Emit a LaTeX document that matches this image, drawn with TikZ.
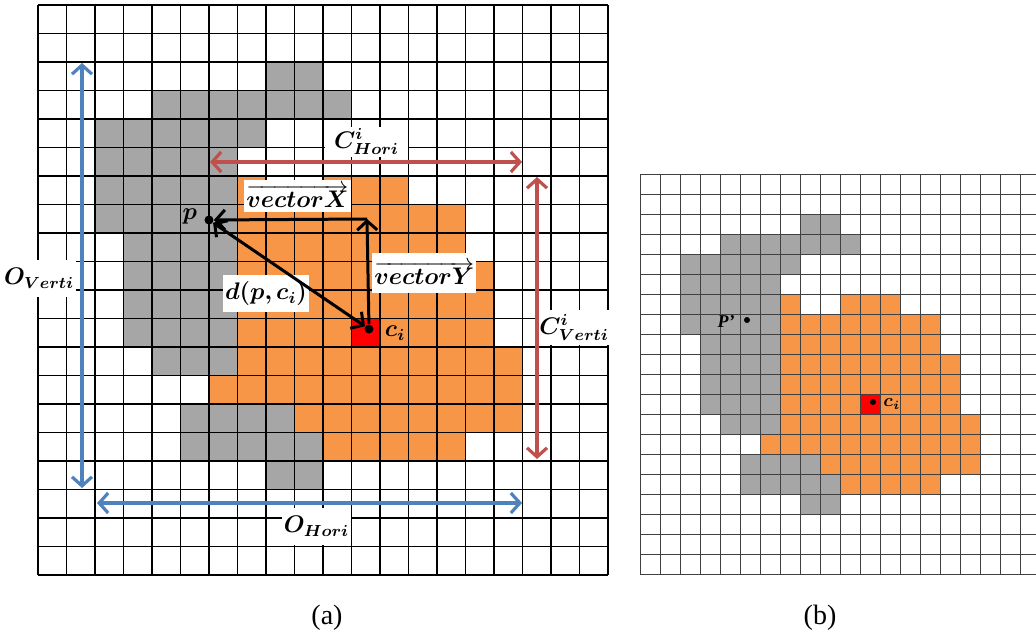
\documentclass[tikz,border=0pt]{standalone}
\usepackage{fontspec}
\setmainfont{Liberation Serif}
\usepackage{bm}
\usetikzlibrary{arrows.meta,positioning}

\definecolor{cellgrey}{RGB}{166,166,166}
\definecolor{cellorange}{RGB}{247,150,70}
\definecolor{arrowblue}{RGB}{79,129,189}
\definecolor{arrowred}{RGB}{192,80,77}

\tikzset{
  gridline/.style={black,line width=0.6pt},
  dimarrow/.style={line width=1.6pt,
    {Straight Barb[length=4.5pt,width=10pt]}-{Straight Barb[length=4.5pt,width=10pt]}},
  vecarrow/.style={black,line width=1.5pt,-{Straight Barb[length=4.5pt,width=10pt]}},
  labelbox/.style={fill=white,inner sep=0pt,font=\fontsize{12}{14}\selectfont},
  pointdot/.style={circle,fill=black,inner sep=0pt,minimum size=#1},
}

% cells of the object, same for (a) and (b)
\newcommand{\drawblob}{%
  \foreach \r/\a/\b in {2/8/9,3/4/10,4/2/7,5/2/6,6/2/6,7/2/6,8/3/6,9/3/6,
                        10/3/6,11/3/6,12/4/6,14/5/8,15/5/9,16/8/9}
    \fill[cellgrey] (\a,\r) rectangle (\b+1,\r+1);
  \foreach \r/\a/\b in {6/7/7,6/10/12,7/7/14,8/7/14,9/7/15,10/7/15,11/7/15,
                        12/7/16,13/6/16,14/9/16,15/10/14}
    \fill[cellorange] (\a,\r) rectangle (\b+1,\r+1);
  \fill[red] (11,11) rectangle (12,12);
  \foreach \i in {0,...,20} {
    \draw[gridline] (\i,0) -- (\i,20);
    \draw[gridline] (0,\i) -- (20,\i);
  }%
}

\begin{document}
\begin{tikzpicture}[x=0.5pt,y=-0.5pt]
  \useasboundingbox (0,0) rectangle (1036,637);
  % grid (a)
  \begin{scope}[shift={(38,5)},scale=28.5]
    \drawblob
  \end{scope}
  % grid (b)
  \begin{scope}[shift={(640,174)},scale=20,gridline/.style={black!75,line width=0.5pt}]
    \drawblob
  \end{scope}

  % end points of the extents
  \coordinate (ovtop) at (82,63);
  \coordinate (ovbot) at (82,488);
  \coordinate (ohleft) at (97,503);
  \coordinate (ohright) at (522,503);
  \coordinate (chleft) at (210,162);
  \coordinate (chright) at (522,162);
  \coordinate (cvtop) at (537,177);
  \coordinate (cvbot) at (537,459);
  \coordinate (corner) at (367,219);

  % labels on white
  \node[labelbox,minimum width=37pt,minimum height=18.5pt] (overti) at (39,278.5) {$\bm{O_{Verti}}$};
  \node[labelbox,minimum width=34.5pt,minimum height=18.5pt] (ohori) at (316.5,526.5) {$\bm{O_{Hori}}$};
  \node[labelbox,minimum width=41.5pt,minimum height=15pt] (chori) at (366.5,141.5) {$\bm{C^{i}_{Hori}}$};
  \node[labelbox,minimum width=32.5pt,minimum height=17.5pt] (cverti) at (574,327.5) {$\bm{C^{i}_{Verti}}$};
  \node[labelbox,minimum height=16pt,inner xsep=1pt,anchor=west] (vecx) at (244,196) {$\overrightarrow{\bm{vectorX}}$};
  \node[labelbox,minimum height=20pt,inner xsep=1pt,anchor=west] (vecy) at (372,273) {$\overrightarrow{\bm{vectorY}}$};
  \node[labelbox,minimum width=43pt,minimum height=18.5pt] (dist) at (266,293.5) {$\bm{d(p,c_i)}$};

  % points p and c_i
  \node[pointdot=4.5pt] (p) at (209,220) {};
  \node[pointdot=4.5pt] (ci) at (369,329) {};
  \node[font=\fontsize{12}{14}\selectfont,left=0pt of p,yshift=2pt] (plabel) {$\bm{p}$};
  \node[font=\fontsize{12}{14}\selectfont,right=2pt of ci,yshift=-2pt] (cilabel) {$\bm{c_i}$};

  % extents
  \draw[dimarrow,arrowblue] (ovtop) -- (ovbot);
  \draw[dimarrow,arrowblue] (ohleft) -- (ohright);
  \draw[dimarrow,arrowred] (chleft) -- (chright);
  \draw[dimarrow,arrowred] (cvtop) -- (cvbot);

  % vectors
  \draw[vecarrow] (corner) -- (p);
  \draw[vecarrow] (ci) -- (corner);
  \draw[dimarrow,black,line width=1.5pt] (p) -- (ci);

  % points in (b)
  \node[pointdot=3pt] (pprime) at (747,320) {};
  \node[pointdot=3pt] (cib) at (873,402) {};
  \node[font=\fontsize{9}{10}\selectfont\bfseries\itshape,left=1pt of pprime,yshift=-1pt] (pplabel) {P'};
  \node[font=\fontsize{9}{10}\selectfont,right=0pt of cib,yshift=-1pt] (ciblabel) {$\bm{c_i}$};

  % captions
  \node[font=\fontsize{14}{16}\selectfont] (capa) at (327,618) {(a)};
  \node[font=\fontsize{14}{16}\selectfont] (capb) at (820,618) {(b)};
\end{tikzpicture}
\end{document}
